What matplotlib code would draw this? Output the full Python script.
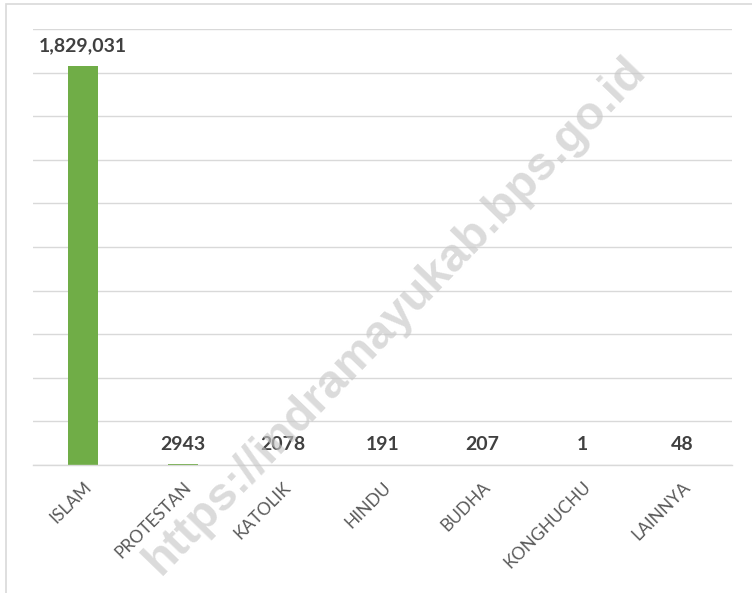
import numpy as np
import matplotlib
matplotlib.use("Agg")
import matplotlib.pyplot as plt
from matplotlib.patches import Rectangle
from matplotlib.ticker import MultipleLocator

# ─── data ─────────────────────────────────────────────────────────────
categories = ["ISLAM", "PROTESTAN", "KATOLIK", "HINDU", "BUDHA", "KONGHUCHU", "LAINNYA"]
values = [1829031, 2943, 2078, 191, 207, 1, 48]
value_labels = ["1,829,031", "2943", "2078", "191", "207", "1", "48"]

BAR_COLOR = "#70AD47"
GRID_COLOR = "#D9D9D9"
TEXT_COLOR = "#404040"
TICK_COLOR = "#595959"

plt.rcParams["font.family"] = ["Lato", "DejaVu Sans"]

fig = plt.figure(figsize=(7.52, 5.93), dpi=100)
ax = fig.add_axes([33 / 752, 1 - 465 / 593, 699 / 752, 436 / 593])

x = np.arange(len(categories))
ax.bar(x, values, width=0.3, color=BAR_COLOR, zorder=2)

ax.set_xlim(-0.5, len(categories) - 0.5)
ax.set_ylim(0, 2000000)
ax.yaxis.set_major_locator(MultipleLocator(200000))
ax.grid(axis="y", color=GRID_COLOR, lw=1.0, zorder=0)
ax.set_axisbelow(True)
for s in ["top", "right", "left"]:
    ax.spines[s].set_visible(False)
ax.spines["bottom"].set_color(GRID_COLOR)
ax.spines["bottom"].set_linewidth(1.0)
ax.tick_params(axis="y", left=False, labelleft=False)
ax.tick_params(axis="x", length=0, pad=10)

ax.set_xticks(x)
ax.set_xticklabels(categories, rotation=45, ha="right", rotation_mode="anchor",
                   fontsize=12.5, color=TICK_COLOR)

# data labels
for xi, v, lab in zip(x, values, value_labels):
    ax.annotate(lab, (xi, v), xytext=(0, 8.5), textcoords="offset points",
                ha="center", va="bottom", fontsize=14, fontweight="bold",
                color=TEXT_COLOR)

# watermark
fig.text(395 / 752, 1 - 316 / 593, "https://indramayukab.bps.go.id",
         rotation=46, ha="center", va="center", fontsize=34, fontweight="bold",
         family="Liberation Sans", color="#C8C8C8", alpha=0.65, zorder=5)

# chart border
fig.patches.append(Rectangle((6 / 752, -0.02), 1.05, 1 - 4 / 593 + 0.02,
                             transform=fig.transFigure, fill=False,
                             edgecolor=GRID_COLOR, lw=1.2))

fig.savefig("out.png", dpi=100)
